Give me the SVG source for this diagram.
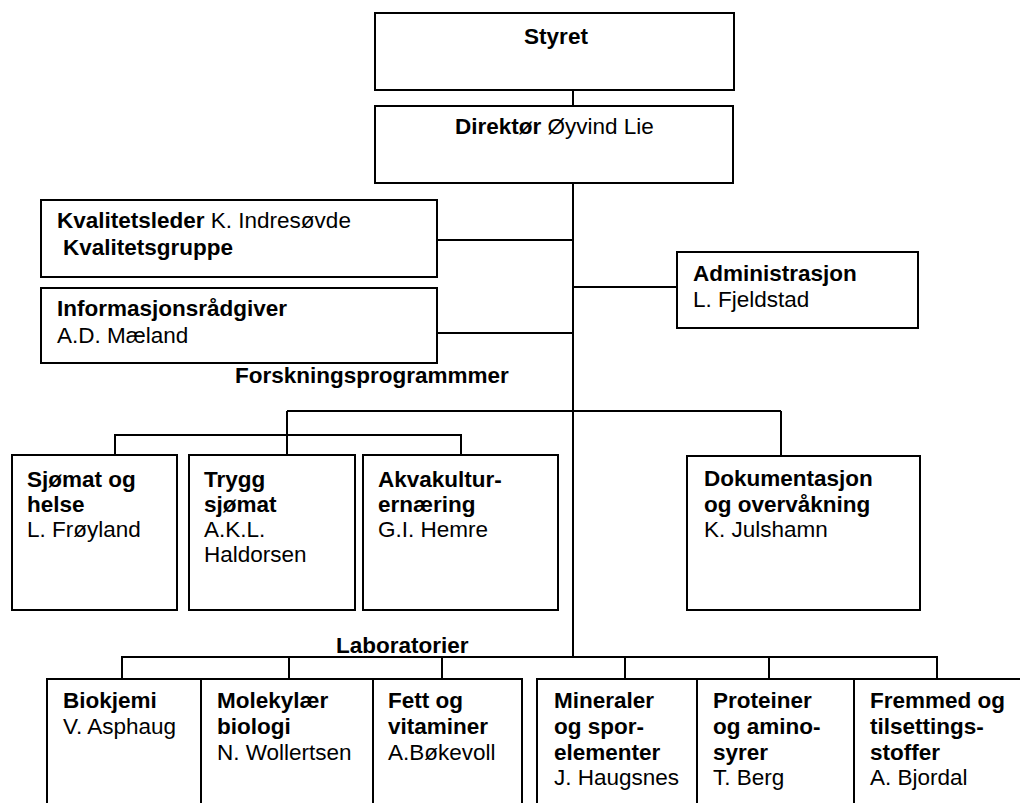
<svg xmlns="http://www.w3.org/2000/svg" width="1020" height="803" viewBox="0 0 1020 803">
<style>
.box{fill:#fff;stroke:#000;stroke-width:2}
.ln{fill:none;stroke:#000;stroke-width:2}
text{font-family:"Liberation Sans",Arial,sans-serif;font-size:22.5px;fill:#000}
.b{font-weight:bold}
</style>
<rect width="1020" height="803" fill="#fff"/>
<g id="connectors">
<path class="ln" d="M573,90V106M573,183V657M437,240H573M573,287H677M437,333H573"/>
<path class="ln" d="M287,411H781M115,455V435H461V455M287,411V455M781,411V456"/>
<path class="ln" d="M122,679V657H937V679M289,657V679M442,657V679M625,657V679M769,657V679"/>
</g>
<g id="styret"><rect class="box" x="375" y="13" width="359" height="77"/><text class="b" x="556" y="44" text-anchor="middle">Styret</text></g>
<g id="direktor"><rect class="box" x="375" y="106" width="358" height="77"/><text x="455" y="134"><tspan class="b">Direktør</tspan> Øyvind Lie</text></g>
<g id="kvalitet"><rect class="box" x="41" y="200" width="396" height="77"/><text x="57" y="228"><tspan class="b">Kvalitetsleder</tspan> K. Indresøvde</text><text class="b" x="63" y="255">Kvalitetsgruppe</text></g>
<g id="informasjon"><rect class="box" x="41" y="288" width="396" height="75"/><text class="b" x="57" y="316">Informasjonsrådgiver</text><text x="57" y="343">A.D. Mæland</text></g>
<g id="administrasjon"><rect class="box" x="677" y="252" width="241" height="76"/><text class="b" x="693" y="281">Administrasjon</text><text x="693" y="307">L. Fjeldstad</text></g>
<g id="forskning-label"><text class="b" x="235" y="383">Forskningsprogrammmer</text></g>
<g id="sjomat"><rect class="box" x="12" y="455" width="165" height="155"/><text class="b" x="27" y="487">Sjømat og</text><text class="b" x="27" y="512">helse</text><text x="27" y="537">L. Frøyland</text></g>
<g id="trygg"><rect class="box" x="189" y="455" width="166" height="155"/><text class="b" x="204" y="487">Trygg</text><text class="b" x="204" y="512">sjømat</text><text x="204" y="537">A.K.L.</text><text x="204" y="562">Haldorsen</text></g>
<g id="akvakultur"><rect class="box" x="363" y="455" width="195" height="155"/><text class="b" x="378" y="487">Akvakultur-</text><text class="b" x="378" y="512">ernæring</text><text x="378" y="537">G.I. Hemre</text></g>
<g id="dokumentasjon"><rect class="box" x="687" y="456" width="233" height="154"/><text class="b" x="704" y="486">Dokumentasjon</text><text class="b" x="704" y="512">og overvåkning</text><text x="704" y="537">K. Julshamn</text></g>
<g id="lab-label"><text class="b" x="336" y="653">Laboratorier</text></g>
<g id="biokjemi"><rect class="box" x="47" y="679" width="154" height="140"/><text class="b" x="63" y="708">Biokjemi</text><text x="63" y="734">V. Asphaug</text></g>
<g id="molekylaer"><rect class="box" x="201" y="679" width="172" height="140"/><text class="b" x="217" y="708">Molekylær</text><text class="b" x="217" y="734">biologi</text><text x="217" y="760">N. Wollertsen</text></g>
<g id="fett"><rect class="box" x="373" y="679" width="149" height="140"/><text class="b" x="388" y="708">Fett og</text><text class="b" x="388" y="734">vitaminer</text><text x="388" y="760">A.Bøkevoll</text></g>
<g id="mineraler"><rect class="box" x="537" y="679" width="160" height="140"/><text class="b" x="554" y="708">Mineraler</text><text class="b" x="554" y="734">og spor-</text><text class="b" x="554" y="760">elementer</text><text x="554" y="785">J. Haugsnes</text></g>
<g id="proteiner"><rect class="box" x="697" y="679" width="157" height="140"/><text class="b" x="713" y="708">Proteiner</text><text class="b" x="713" y="734">og amino-</text><text class="b" x="713" y="760">syrer</text><text x="713" y="785">T. Berg</text></g>
<g id="fremmed"><rect class="box" x="854" y="679" width="180" height="140"/><text class="b" x="870" y="708">Fremmed og</text><text class="b" x="870" y="734">tilsettings-</text><text class="b" x="870" y="760">stoffer</text><text x="870" y="785">A. Bjordal</text></g>
</svg>
